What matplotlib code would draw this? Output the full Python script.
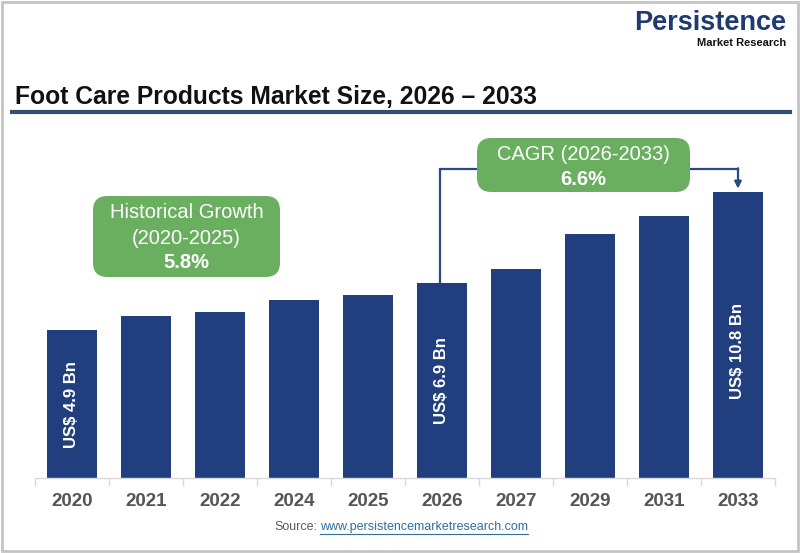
import matplotlib
matplotlib.use("Agg")
import matplotlib.pyplot as plt
from matplotlib import font_manager
from matplotlib.patches import FancyBboxPatch, Rectangle
from matplotlib.lines import Line2D
import numpy as np

# chart data
years = ['2020', '2021', '2022', '2024', '2025', '2026', '2027', '2029', '2031', '2033']
market_size = [4.9, 5.5, 5.7, 6.2, 6.4, 6.9, 7.5, 9.0, 9.8, 10.8]   # US$ Bn
labelled = {'2020': 'US$ 4.9 Bn', '2026': 'US$ 6.9 Bn', '2033': 'US$ 10.8 Bn'}
hist_cagr = ['Historical Growth', '(2020-2025)', '5.8%']
fcst_cagr = ['CAGR (2026-2033)', '6.6%']

W, H = 800, 553
names = {f.name for f in font_manager.fontManager.ttflist}
narrow = 'Liberation Sans Narrow' if 'Liberation Sans Narrow' in names else 'Liberation Sans'
sans = 'Liberation Sans'

bar_col = '#213f7e'
green = '#6aae60'
line_col = '#2a4a80'


def fx(x):
    return x / W


def fy(y):
    return 1 - y / H


fig = plt.figure(figsize=(8, 5.53), dpi=100)
fig.patch.set_facecolor('white')

# axis: truncated baseline so the bars keep the proportions of the original
base = -1.41
ax = fig.add_axes([fx(35), fy(478), 740 / W, 358 / H])
x = np.arange(len(years))
vals = np.array(market_size)
ax.bar(x, vals - base, bottom=base, width=0.68, color=bar_col, zorder=2)
ax.set_xlim(-0.5, len(years) - 0.5)
ax.set_ylim(base, base + 358 / 23.41)

for s in ['top', 'right', 'left']:
    ax.spines[s].set_visible(False)
ax.spines['bottom'].set_color('#d9d9d9')
ax.spines['bottom'].set_linewidth(1)
ax.set_yticks([])
ax.set_xticks(x)
ax.set_xticklabels(years, fontfamily=narrow, fontweight='bold', fontsize=13.5, color='#555555')
ax.set_xticks(np.arange(len(years) + 1) - 0.5, minor=True)
ax.tick_params(axis='x', which='major', length=0, pad=11)
ax.tick_params(axis='x', which='minor', length=6, color='#d9d9d9', width=1)

for i, yr in enumerate(years):
    if yr in labelled:
        ax.text(i, (base + vals[i]) / 2 - (0.7 if yr == '2033' else 0), labelled[yr],
                rotation=90, ha='center', va='center', color='white',
                fontfamily=sans, fontweight='bold', fontsize=12, zorder=3)

# CAGR connector from 2026 to 2033
i26, i33 = years.index('2026'), years.index('2033')
y_conn = 11.79
ax.plot([i26 - 0.03, i26 - 0.03, i33], [vals[i26], y_conn, y_conn], color=line_col, lw=1.6,
        zorder=1, clip_on=False, solid_joinstyle='miter')
ax.annotate('', xy=(i33, vals[i33] + 0.15), xytext=(i33, y_conn + 0.03),
            arrowprops=dict(arrowstyle='-|>', color=line_col, lw=1.6,
                            mutation_scale=10, shrinkA=0, shrinkB=0),
            annotation_clip=False)


def green_box(x0, y0, x1, y1):
    p = FancyBboxPatch((fx(x0), fy(y1)), fx(x1) - fx(x0), fy(y0) - fy(y1),
                       boxstyle='round,pad=0,rounding_size=0.018',
                       transform=fig.transFigure, facecolor=green, edgecolor='none',
                       mutation_aspect=W / H, zorder=5)
    fig.patches.append(p)


green_box(93, 196, 280, 277)
fig.text(fx(186.5), fy(213), hist_cagr[0], ha='center', va='center', color='white',
         fontfamily=sans, fontsize=14.5, zorder=6)
fig.text(fx(186.5), fy(238), hist_cagr[1], ha='center', va='center', color='white',
         fontfamily=sans, fontsize=14.5, zorder=6)
fig.text(fx(186.5), fy(263), hist_cagr[2], ha='center', va='center', color='white',
         fontfamily=sans, fontweight='bold', fontsize=14.5, zorder=6)

green_box(477, 138, 690, 192)
fig.text(fx(583.5), fy(155), fcst_cagr[0], ha='center', va='center', color='white',
         fontfamily=sans, fontsize=14.5, zorder=6)
fig.text(fx(583.5), fy(179), fcst_cagr[1], ha='center', va='center', color='white',
         fontfamily=sans, fontweight='bold', fontsize=14.5, zorder=6)

# title and rule
fig.text(fx(15), fy(104), 'Foot Care Products Market Size, 2026 – 2033', ha='left',
         va='baseline', fontfamily=narrow, fontweight='bold', fontsize=17.7, color='#111111')
fig.add_artist(Line2D([fx(12), fx(790)], [fy(112), fy(112)], color='#34506e', lw=3))

# logo
fig.text(fx(786), fy(30.5), 'Persistence', ha='right', va='baseline', fontfamily=sans,
         fontweight='bold', fontsize=19.5, color='#1f3a70')
fig.text(fx(786), fy(46.5), 'Market Research', ha='right', va='baseline', fontfamily=sans,
         fontweight='bold', fontsize=8, color='#111111')

# source line
fig.text(fx(317), fy(527), 'Source:', ha='right', va='center', fontfamily=narrow,
         fontsize=9, color='#595959')
url = fig.text(fx(320), fy(527), 'www.persistencemarketresearch.com', ha='left', va='center',
               fontfamily=narrow, fontsize=9, color='#2e6f9e')
fig.canvas.draw()
bb = url.get_window_extent()
fig.add_artist(Line2D([bb.x0 / W, bb.x1 / W], [(bb.y0 - 1) / H, (bb.y0 - 1) / H],
                      color='#2e6f9e', lw=0.8))

# outer frame
fig.patches.append(Rectangle((0.002, 0.003), 0.995, 0.993, transform=fig.transFigure,
                             fill=False, edgecolor='#c4c4c4', lw=2))

fig.savefig('out.png', dpi=100)
